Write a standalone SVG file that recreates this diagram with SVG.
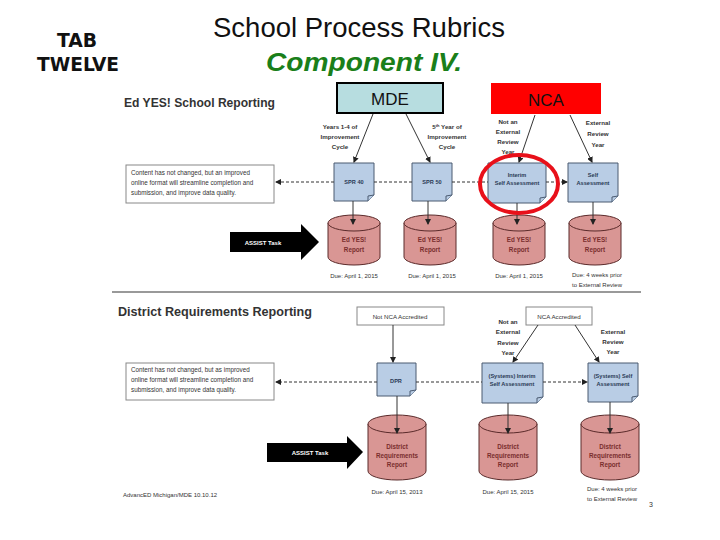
<svg xmlns="http://www.w3.org/2000/svg" width="720" height="540" viewBox="0 0 720 540">
<defs>
<style>
.lbl{font-family:"Liberation Sans",Arial,sans-serif;font-size:6.2px;font-weight:bold;fill:#333;text-anchor:middle}
.note{font-family:"Liberation Sans",Arial,sans-serif;font-size:6.3px;fill:#333}
.doc{fill:#b9cde5;stroke:#4a5a70;stroke-width:1}
.doct{font-family:"Liberation Sans",Arial,sans-serif;font-size:5.6px;font-weight:bold;fill:#2a3a55;text-anchor:middle}
.cyl{fill:#d99694;stroke:#5a2a2a;stroke-width:1}
.cylt{font-family:"Liberation Sans",Arial,sans-serif;font-size:6.3px;font-weight:bold;fill:#7a2e2e;text-anchor:middle}
.due{font-family:"Liberation Sans",Arial,sans-serif;font-size:6px;fill:#333;text-anchor:middle}
.box{fill:#fff;stroke:#888;stroke-width:1}
.solid{stroke:#333;stroke-width:1;fill:none}
.dash{stroke:#333;stroke-width:1;fill:none;stroke-dasharray:3,2}
.sec{font-family:"Liberation Sans",Arial,sans-serif;font-size:12.5px;font-weight:bold;fill:#333}
.assist{font-family:"Liberation Sans",Arial,sans-serif;font-size:6px;font-weight:bold;fill:#fff;text-anchor:middle}
</style>
<marker id="ah" markerWidth="6" markerHeight="6" refX="5" refY="3" orient="auto" markerUnits="userSpaceOnUse">
<path d="M0,0 L6,3 L0,6 Z" fill="#222"/>
</marker>
</defs>
<rect width="720" height="540" fill="#fff"/>

<g id="header">
<text x="77" y="47" font-family="DejaVu Sans Condensed,Liberation Sans,sans-serif" font-size="19" font-weight="bold" text-anchor="middle" fill="#111" textLength="40" lengthAdjust="spacingAndGlyphs">TAB</text>
<text x="78" y="71" font-family="DejaVu Sans Condensed,Liberation Sans,sans-serif" font-size="19" font-weight="bold" text-anchor="middle" fill="#111" textLength="82" lengthAdjust="spacingAndGlyphs">TWELVE</text>
<text x="359" y="37" font-family="Liberation Sans,Arial,sans-serif" font-size="27.5" text-anchor="middle" fill="#111">School Process Rubrics</text>
<text x="364" y="71" font-family="Liberation Sans,Arial,sans-serif" font-size="26" font-weight="bold" font-style="italic" text-anchor="middle" fill="#1a7f1a" textLength="196" lengthAdjust="spacingAndGlyphs">Component IV.</text>
</g>

<g id="mde">
<rect x="337" y="83" width="106" height="30" fill="#b7dde0" stroke="#000" stroke-width="2"/>
<text x="390" y="105" font-family="Liberation Sans,Arial,sans-serif" font-size="17" text-anchor="middle" fill="#111">MDE</text>
</g>
<g id="nca">
<rect x="491" y="83" width="110" height="31" fill="#ff0000"/>
<text x="546" y="106" font-family="Liberation Sans,Arial,sans-serif" font-size="17" text-anchor="middle" fill="#111">NCA</text>
</g>

<text class="sec" x="124" y="107" textLength="151" lengthAdjust="spacingAndGlyphs">Ed YES! School Reporting</text>

<g id="top-labels">
<text class="lbl" x="340" y="129">Years 1-4 of</text>
<text class="lbl" x="340" y="139">Improvement</text>
<text class="lbl" x="340" y="149">Cycle</text>
<text class="lbl" x="447" y="129">5<tspan font-size="4" dy="-2">th</tspan><tspan dy="2"> Year of</tspan></text>
<text class="lbl" x="447" y="139">Improvement</text>
<text class="lbl" x="447" y="149">Cycle</text>
<text class="lbl" x="508" y="124">Not an</text>
<text class="lbl" x="508" y="134">External</text>
<text class="lbl" x="508" y="144">Review</text>
<text class="lbl" x="508" y="154">Year</text>
<text class="lbl" x="598" y="125">External</text>
<text class="lbl" x="598" y="136">Review</text>
<text class="lbl" x="598" y="147">Year</text>
</g>

<g id="note-top">
<rect class="box" x="126" y="165" width="148" height="38"/>
<text class="note" x="131" y="175">Content has not changed, but an improved</text>
<text class="note" x="131" y="185">online format will streamline completion and</text>
<text class="note" x="131" y="195">submission, and improve data quality.</text>
</g>

<g id="spr40">
<path class="doc" d="M334,163 H374 V195 L368,201 H334 Z"/>
<path class="doc" d="M374,195 L368,196 L368,201" fill="#8da3c0"/>
<text class="doct" x="354" y="184">SPR 40</text>
</g>
<g id="spr50">
<path class="doc" d="M412,163 H452 V195 L446,201 H412 Z"/>
<path class="doc" d="M452,195 L446,196 L446,201" fill="#8da3c0"/>
<text class="doct" x="432" y="184">SPR 50</text>
</g>
<g id="interim">
<path class="doc" d="M488,163 H546 V197 L540,203 H488 Z"/>
<path class="doc" d="M546,197 L540,198 L540,203" fill="#8da3c0"/>
<text class="doct" x="517" y="177">Interim</text>
<text class="doct" x="517" y="185">Self Assessment</text>
</g>
<g id="self">
<path class="doc" d="M568,163 H618 V196 L612,202 H568 Z"/>
<path class="doc" d="M618,196 L612,197 L612,202" fill="#8da3c0"/>
<text class="doct" x="593" y="177">Self</text>
<text class="doct" x="593" y="185">Assessment</text>
</g>

<g id="cyl-top">
<g id="edyes1">
<path class="cyl" d="M328,223 A26,8 0 0 1 380,223 V257 A26,8 0 0 1 328,257 Z"/>
<path class="cyl" d="M328,223 A26,8 0 0 0 380,223" fill="none"/>
<text class="cylt" x="354" y="242">Ed YES!</text>
<text class="cylt" x="354" y="252">Report</text>
</g>
<g id="edyes2">
<path class="cyl" d="M404,223 A26,8 0 0 1 456,223 V257 A26,8 0 0 1 404,257 Z"/>
<path class="cyl" d="M404,223 A26,8 0 0 0 456,223" fill="none"/>
<text class="cylt" x="430" y="242">Ed YES!</text>
<text class="cylt" x="430" y="252">Report</text>
</g>
<g id="edyes3">
<path class="cyl" d="M493,223 A26,8 0 0 1 545,223 V257 A26,8 0 0 1 493,257 Z"/>
<path class="cyl" d="M493,223 A26,8 0 0 0 545,223" fill="none"/>
<text class="cylt" x="519" y="242">Ed YES!</text>
<text class="cylt" x="519" y="252">Report</text>
</g>
<g id="edyes4">
<path class="cyl" d="M569,223 A26,8 0 0 1 621,223 V257 A26,8 0 0 1 569,257 Z"/>
<path class="cyl" d="M569,223 A26,8 0 0 0 621,223" fill="none"/>
<text class="cylt" x="595" y="242">Ed YES!</text>
<text class="cylt" x="595" y="252">Report</text>
</g>
</g>

<g id="due-top">
<text class="due" x="354" y="278">Due: April 1, 2015</text>
<text class="due" x="432" y="278">Due: April 1, 2015</text>
<text class="due" x="519" y="278">Due: April 1, 2015</text>
<text class="due" x="597" y="277">Due: 4 weeks prior</text>
<text class="due" x="597" y="287">to External Review</text>
</g>

<g id="assist-top">
<polygon points="230,232 301,232 301,224 319,242 301,260 301,252 230,252" fill="#000"/>
<text class="assist" x="263" y="244.5">ASSIST Task</text>
</g>

<line x1="112" y1="292" x2="641" y2="292" stroke="#999" stroke-width="2"/>

<text class="sec" x="118" y="316" textLength="194" lengthAdjust="spacingAndGlyphs">District Requirements Reporting</text>

<g id="not-nca">
<rect class="box" x="357" y="307" width="87" height="18"/>
<text class="lbl" x="400" y="318.5" style="font-weight:normal">Not NCA Accredited</text>
</g>
<g id="nca-acc">
<rect class="box" x="526" y="307" width="66" height="18"/>
<text class="lbl" x="559" y="318.5" style="font-weight:normal">NCA Accredited</text>
</g>

<g id="bottom-labels">
<text class="lbl" x="508" y="324">Not an</text>
<text class="lbl" x="508" y="334">External</text>
<text class="lbl" x="508" y="345">Review</text>
<text class="lbl" x="508" y="355">Year</text>
<text class="lbl" x="613" y="334">External</text>
<text class="lbl" x="613" y="344">Review</text>
<text class="lbl" x="613" y="354">Year</text>
</g>

<g id="note-bottom">
<rect class="box" x="126" y="363" width="148" height="37"/>
<text class="note" x="131" y="372">Content has not changed, but as improved</text>
<text class="note" x="131" y="382">online format will streamline completion and</text>
<text class="note" x="131" y="392">submission, and improve data quality.</text>
</g>

<g id="dpr">
<path class="doc" d="M377,363 H416 V390 L410,396 H377 Z"/>
<path class="doc" d="M416,390 L410,391 L410,396" fill="#8da3c0"/>
<text class="doct" x="396" y="383">DPR</text>
</g>
<g id="sys-interim">
<path class="doc" d="M482,363 H543 V397 L537,403 H482 Z"/>
<path class="doc" d="M543,397 L537,398 L537,403" fill="#8da3c0"/>
<text class="doct" x="512" y="378">(Systems) Interim</text>
<text class="doct" x="512" y="386">Self Assessment</text>
</g>
<g id="sys-self">
<path class="doc" d="M588,363 H638 V396 L632,402 H588 Z"/>
<path class="doc" d="M638,396 L632,397 L632,402" fill="#8da3c0"/>
<text class="doct" x="613" y="378">(Systems) Self</text>
<text class="doct" x="613" y="386">Assessment</text>
</g>

<g id="cyl-bottom">
<g id="drr1">
<path class="cyl" d="M368,424 A29,9 0 0 1 426,424 V471 A29,9 0 0 1 368,471 Z"/>
<path class="cyl" d="M368,424 A29,9 0 0 0 426,424" fill="none"/>
<text class="cylt" x="397" y="449">District</text>
<text class="cylt" x="397" y="458">Requirements</text>
<text class="cylt" x="397" y="467">Report</text>
</g>
<g id="drr2">
<path class="cyl" d="M479,424 A29,9 0 0 1 537,424 V471 A29,9 0 0 1 479,471 Z"/>
<path class="cyl" d="M479,424 A29,9 0 0 0 537,424" fill="none"/>
<text class="cylt" x="508" y="449">District</text>
<text class="cylt" x="508" y="458">Requirements</text>
<text class="cylt" x="508" y="467">Report</text>
</g>
<g id="drr3">
<path class="cyl" d="M581,424 A29,9 0 0 1 639,424 V471 A29,9 0 0 1 581,471 Z"/>
<path class="cyl" d="M581,424 A29,9 0 0 0 639,424" fill="none"/>
<text class="cylt" x="610" y="449">District</text>
<text class="cylt" x="610" y="458">Requirements</text>
<text class="cylt" x="610" y="467">Report</text>
</g>
</g>

<g id="due-bottom">
<text class="due" x="397" y="494">Due: April 15, 2013</text>
<text class="due" x="508" y="494">Due: April 15, 2015</text>
<text class="due" x="612" y="491">Due: 4 weeks prior</text>
<text class="due" x="612" y="501">to External Review</text>
</g>

<g id="assist-bottom">
<polygon points="267,443 347,443 347,436 363,452 347,469 347,462 267,462" fill="#000"/>
<text class="assist" x="310" y="454.5">ASSIST Task</text>
</g>

<text x="123" y="497" font-family="Liberation Sans,Arial,sans-serif" font-size="6" fill="#333">AdvancED Michigan/MDE 10.10.12</text>
<text x="649" y="507" font-family="Liberation Sans,Arial,sans-serif" font-size="7" fill="#333">3</text>

<g id="connectors">
<line class="solid" x1="373" y1="114" x2="354" y2="162" marker-end="url(#ah)"/>
<line class="solid" x1="406" y1="114" x2="430" y2="162" marker-end="url(#ah)"/>
<line class="solid" x1="535" y1="115" x2="519" y2="162" marker-end="url(#ah)"/>
<line class="solid" x1="570" y1="115" x2="592" y2="162" marker-end="url(#ah)"/>
<line class="solid" x1="353" y1="201" x2="353" y2="224" marker-end="url(#ah)"/>
<line class="solid" x1="428" y1="201" x2="428" y2="224" marker-end="url(#ah)"/>
<line class="solid" x1="517" y1="203" x2="517" y2="224" marker-end="url(#ah)"/>
<line class="solid" x1="593" y1="202" x2="593" y2="224" marker-end="url(#ah)"/>
<line class="dash" x1="334" y1="182" x2="276" y2="182" marker-end="url(#ah)"/>
<line class="dash" x1="374" y1="182" x2="412" y2="182"/>
<line class="dash" x1="452" y1="182" x2="488" y2="182"/>
<line class="dash" x1="546" y1="182" x2="567" y2="182" marker-end="url(#ah)"/>
<line class="solid" x1="393" y1="325" x2="393" y2="362" marker-end="url(#ah)"/>
<line class="solid" x1="538" y1="325" x2="513" y2="362" marker-end="url(#ah)"/>
<line class="solid" x1="575" y1="325" x2="599" y2="362" marker-end="url(#ah)"/>
<line class="solid" x1="397" y1="396" x2="397" y2="433" marker-end="url(#ah)"/>
<line class="solid" x1="508" y1="403" x2="508" y2="433" marker-end="url(#ah)"/>
<line class="solid" x1="610" y1="402" x2="610" y2="433" marker-end="url(#ah)"/>
<line class="dash" x1="377" y1="382" x2="276" y2="382" marker-end="url(#ah)"/>
<line class="dash" x1="416" y1="382" x2="482" y2="382"/>
<line class="dash" x1="543" y1="382" x2="587" y2="382" marker-end="url(#ah)"/>
</g>

<ellipse id="highlight" cx="519" cy="184" rx="39" ry="29" fill="none" stroke="#e8101a" stroke-width="4"/>
</svg>
